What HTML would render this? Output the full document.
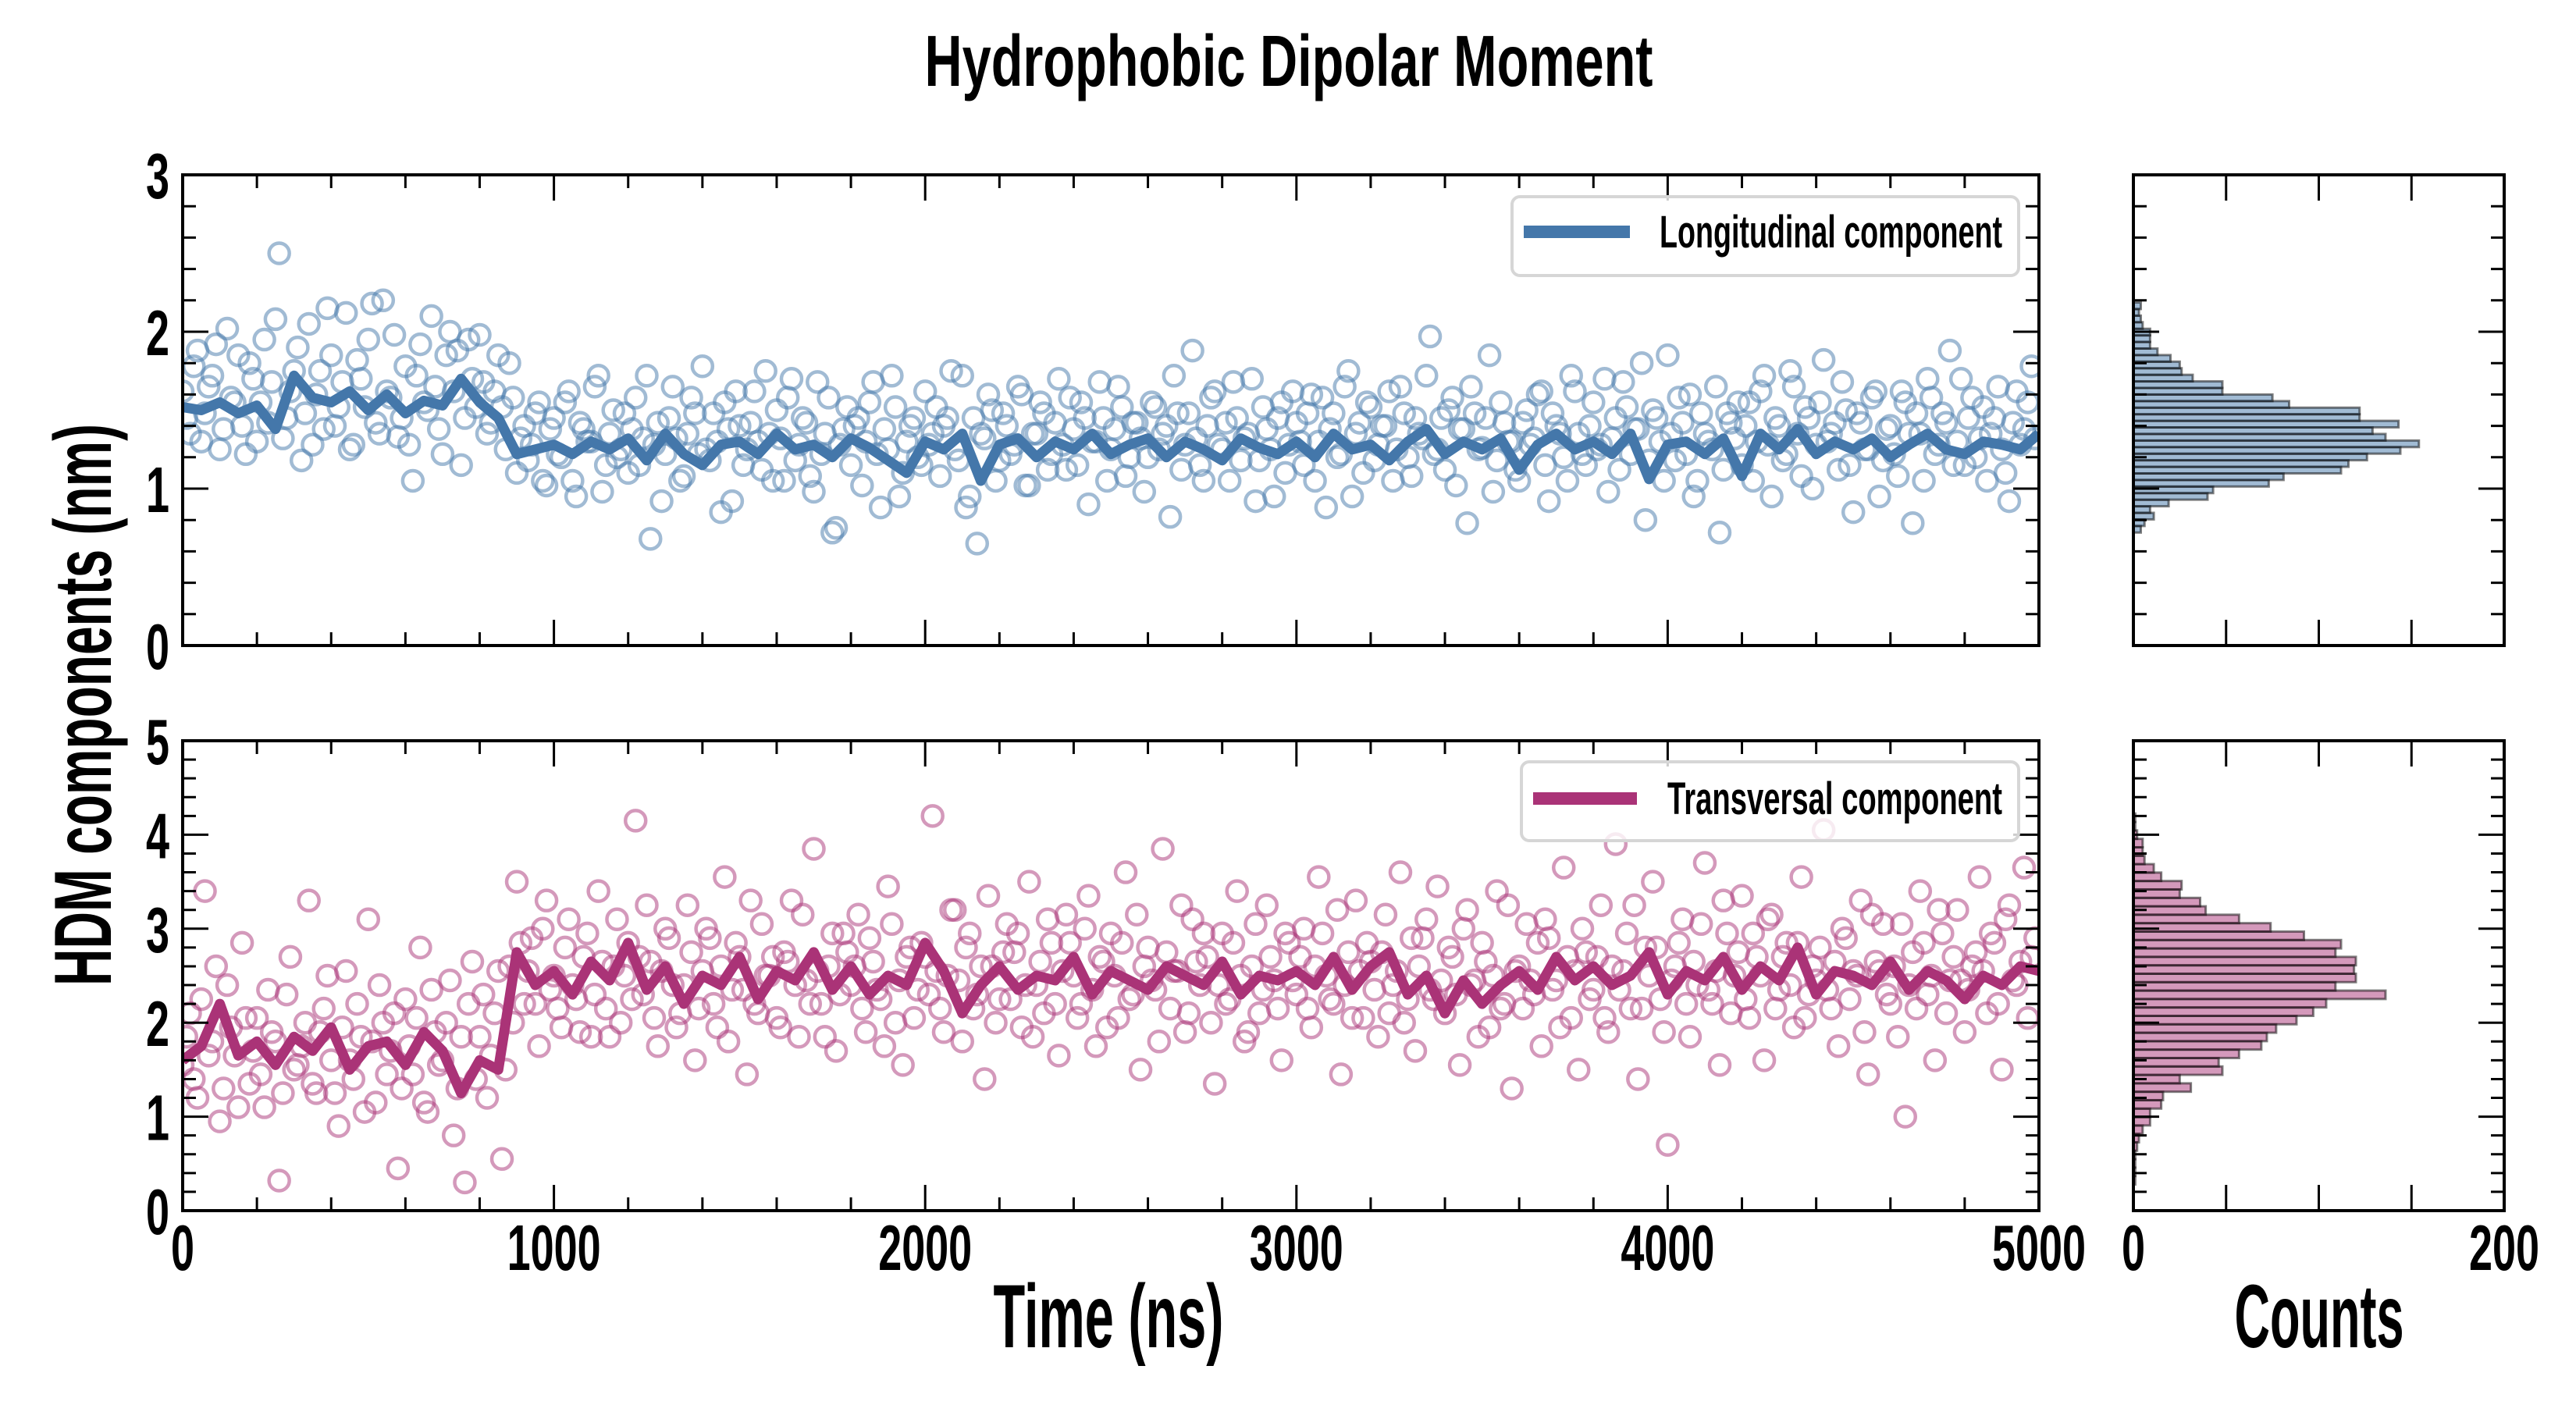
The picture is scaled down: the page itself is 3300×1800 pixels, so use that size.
<!DOCTYPE html>
<html><head><meta charset="utf-8"><style>
html,body{margin:0;padding:0;background:#fff;}
svg{display:block;}
text{font-family:"Liberation Sans",sans-serif;font-weight:bold;fill:#000;}
</style></head><body>
<svg id="fig" xmlns="http://www.w3.org/2000/svg" width="3300" height="1800" viewBox="0 0 3300 1800">
<rect x="0" y="0" width="3300" height="1800" fill="#fff"/>
<defs>
<clipPath id="clipTop"><rect x="234" y="224" width="2378" height="603"/></clipPath>
<clipPath id="clipBot"><rect x="234" y="949" width="2378" height="602"/></clipPath>
</defs>
<text x="1651" y="110" text-anchor="middle" font-size="93" textLength="933" lengthAdjust="spacingAndGlyphs">Hydrophobic Dipolar Moment</text>
<text x="0" y="0" transform="translate(142,903) rotate(-90)" text-anchor="middle" font-size="104" textLength="720" lengthAdjust="spacingAndGlyphs">HDM components (nm)</text>
<text x="1420" y="1726" text-anchor="middle" font-size="115" textLength="295" lengthAdjust="spacingAndGlyphs">Time (ns)</text>
<text x="2971" y="1726" text-anchor="middle" font-size="115" textLength="217" lengthAdjust="spacingAndGlyphs">Counts</text>
<g id="layer"></g>
</svg>
<script>
// ---- data ----
const lineStepNs = 50;
const longLine = [1.52,1.50,1.55,1.48,1.53,1.38,1.72,1.58,1.55,1.62,1.50,1.60,1.48,1.56,1.53,1.70,1.55,1.45,1.22,1.25,
1.28,1.22,1.30,1.25,1.32,1.18,1.35,1.22,1.15,1.28,1.30,1.22,1.35,1.25,1.28,1.20,1.32,1.26,1.18,1.10,
1.30,1.25,1.35,1.05,1.28,1.32,1.20,1.30,1.25,1.35,1.22,1.28,1.32,1.20,1.30,1.25,1.18,1.32,1.26,1.22,
1.30,1.20,1.35,1.25,1.28,1.18,1.30,1.38,1.22,1.30,1.25,1.32,1.12,1.28,1.35,1.25,1.30,1.22,1.35,1.06,
1.28,1.30,1.22,1.32,1.08,1.35,1.25,1.38,1.22,1.30,1.25,1.32,1.20,1.28,1.35,1.25,1.22,1.30,1.28,1.25,1.35];
const transLine = [1.60,1.75,2.20,1.65,1.80,1.55,1.85,1.70,1.95,1.50,1.75,1.80,1.55,1.90,1.70,1.25,1.60,1.50,2.75,2.40,
2.55,2.30,2.65,2.45,2.85,2.35,2.60,2.20,2.50,2.40,2.70,2.25,2.55,2.45,2.75,2.35,2.60,2.30,2.50,2.40,
2.85,2.55,2.10,2.40,2.60,2.35,2.50,2.45,2.70,2.30,2.55,2.45,2.35,2.60,2.50,2.40,2.65,2.30,2.50,2.45,
2.55,2.40,2.70,2.35,2.60,2.75,2.30,2.50,2.10,2.45,2.20,2.40,2.55,2.35,2.70,2.45,2.60,2.40,2.50,2.75,
2.30,2.55,2.45,2.70,2.35,2.60,2.45,2.80,2.30,2.55,2.50,2.40,2.65,2.35,2.55,2.45,2.25,2.50,2.40,2.60,2.55];
const scatterStepNs = 20;
const longScatter = [1.62,1.35,1.88,1.48,1.72,1.25,2.02,1.55,1.40,1.80,
1.30,1.95,1.68,2.50,1.45,1.75,1.18,2.05,1.60,1.38,
1.85,1.52,2.12,1.28,1.70,1.95,1.42,2.20,1.58,1.33,
1.78,1.05,1.92,1.50,1.65,1.22,2.00,1.88,1.45,1.70,
1.98,1.35,1.62,1.52,1.80,1.10,1.40,1.28,1.55,1.02,
1.45,1.20,1.62,0.95,1.38,1.30,1.72,1.15,1.50,1.25,
1.10,1.58,1.32,0.68,1.42,1.22,1.65,1.05,1.35,1.48,
1.78,1.18,1.30,1.55,0.92,1.40,1.25,1.62,1.12,1.35,
1.50,1.05,1.70,1.28,1.42,0.98,1.22,1.58,0.75,1.38,
1.15,1.45,1.30,1.68,0.88,1.25,1.52,1.10,1.40,1.20,
1.62,1.35,1.08,1.45,1.25,1.72,0.95,0.65,1.32,1.50,
1.18,1.40,1.28,1.60,1.02,1.35,1.48,1.22,1.70,1.12,
1.38,1.55,0.90,1.30,1.45,1.25,1.65,1.08,1.42,1.32,
1.20,1.52,1.35,0.82,1.48,1.28,1.88,1.15,1.40,1.62,
1.25,1.05,1.45,1.32,1.70,1.18,1.38,0.95,1.55,1.28,
1.42,1.15,1.60,1.30,0.88,1.48,1.22,1.75,1.35,1.10,
1.52,1.28,1.40,1.05,1.65,1.20,1.45,1.32,1.97,1.25,
1.12,1.58,1.38,0.78,1.48,1.26,1.85,1.18,1.42,1.30,
1.05,1.50,1.32,1.62,0.92,1.40,1.20,1.72,1.35,1.15,
1.55,1.28,0.98,1.45,1.68,1.22,1.38,0.80,1.50,1.30,
1.85,1.18,1.42,1.60,1.05,1.35,1.25,0.72,1.48,1.32,
1.15,1.55,1.30,1.72,0.95,1.40,1.22,1.65,1.08,1.45,
1.28,1.82,1.35,1.12,1.50,0.85,1.42,1.25,1.62,1.18,
1.40,1.08,1.55,0.78,1.35,1.70,1.22,1.48,1.88,1.30,
1.15,1.58,1.32,1.05,1.45,1.25,0.92,1.62,1.38,1.78];
const longScatterB = [1.45,1.78,1.30,1.65,1.92,1.38,1.58,1.85,1.22,1.70,
1.55,1.42,2.08,1.32,1.62,1.90,1.48,1.28,1.75,2.15,
1.40,1.68,1.25,1.82,1.52,2.18,1.35,1.62,1.98,1.45,
1.28,1.72,1.55,2.10,1.38,1.85,1.62,1.15,1.95,1.52,
1.68,1.42,1.85,1.25,1.58,1.32,1.18,1.48,1.05,1.38,
1.22,1.55,1.05,1.42,1.30,1.65,0.98,1.35,1.20,1.48,
1.38,1.15,1.72,1.28,0.92,1.45,1.32,1.08,1.58,1.22,
1.25,1.48,0.85,1.38,1.62,1.15,1.42,1.30,1.75,1.05,
1.32,1.58,1.18,1.45,1.08,1.68,1.35,0.72,1.28,1.52,
1.40,1.02,1.55,1.22,1.38,1.72,0.95,1.30,1.45,1.15,
1.28,1.52,1.40,1.75,1.18,0.88,1.45,1.35,1.60,1.05,
1.48,1.22,1.65,1.02,1.35,1.55,1.12,1.42,1.28,1.58,
1.15,1.45,1.30,1.68,1.05,1.38,1.52,1.20,1.42,0.98,
1.55,1.25,1.40,1.72,1.12,1.48,1.32,1.05,1.58,1.28,
1.42,1.68,1.18,1.35,0.92,1.52,1.25,1.45,1.10,1.62,
1.30,1.48,1.05,1.58,1.38,1.20,1.65,0.95,1.42,1.55,
1.18,1.40,1.62,1.25,1.48,1.08,1.35,1.72,1.22,1.45,
1.50,1.02,1.38,1.65,1.25,1.45,0.98,1.55,1.30,1.12,
1.42,1.28,1.60,1.15,1.48,1.35,1.05,1.62,1.22,1.40,
1.25,1.70,1.32,1.12,1.52,1.38,1.80,1.18,1.45,1.05,
1.35,1.58,1.22,0.95,1.48,1.30,1.65,1.12,1.42,1.55,
1.40,1.05,1.62,1.28,1.45,1.18,1.75,1.35,1.52,1.00,
1.55,1.30,1.42,1.68,1.15,1.48,1.25,1.58,0.95,1.38,
1.22,1.62,1.35,1.48,1.05,1.58,1.28,1.42,1.15,1.70,
1.45,1.20,1.52,1.35,1.65,1.10,1.42,1.28,1.55,1.32];
const transScatter = [1.55,2.10,1.20,3.40,1.80,0.95,2.40,1.65,2.85,1.35,
2.05,1.10,1.90,0.32,2.30,1.50,1.75,3.30,1.25,2.15,
1.60,0.90,2.55,1.40,1.85,3.10,1.15,2.00,1.70,0.45,
2.25,1.45,2.80,1.05,1.90,1.60,2.45,1.30,0.30,2.65,
1.85,1.20,2.10,0.55,2.60,3.50,2.20,2.90,1.75,3.30,
2.50,1.95,3.10,2.25,2.70,1.85,3.40,2.15,2.60,2.00,
2.85,4.15,2.30,2.65,1.75,3.00,2.40,2.10,3.25,1.60,
2.55,2.90,1.95,3.55,2.35,2.70,1.45,2.20,3.05,2.50,
2.05,2.75,3.30,1.85,2.45,3.85,2.20,2.60,1.70,2.95,
2.40,3.15,1.90,2.65,2.25,3.45,2.00,1.55,2.80,2.35,
2.70,4.20,2.15,2.50,3.20,1.80,2.95,2.30,1.40,2.60,
2.25,3.05,2.75,1.95,3.50,2.40,2.10,2.85,1.65,3.15,
2.50,2.20,3.35,1.75,2.65,2.95,2.05,3.60,2.30,1.50,
2.80,2.35,3.85,2.15,2.55,1.90,3.10,2.40,2.70,1.35,
2.95,2.25,3.40,1.80,2.60,2.10,3.25,2.45,1.60,2.85,
2.30,3.00,1.95,3.55,2.50,2.20,1.45,2.75,3.30,2.05,
2.65,1.85,3.15,2.40,3.60,2.25,1.70,2.90,2.35,3.45,
2.10,2.70,1.55,3.20,2.45,2.85,1.95,3.40,2.20,1.30,
2.60,3.05,2.30,1.75,2.90,2.45,3.65,2.05,1.50,2.75,
2.35,3.25,1.90,3.90,2.55,2.15,1.40,2.80,3.50,2.25,
0.70,2.60,3.10,1.85,2.40,3.70,2.20,1.55,2.95,2.50,
3.35,2.05,2.70,1.60,3.15,2.35,2.85,1.95,3.55,2.30,
2.45,4.05,2.15,1.75,2.90,2.55,3.30,1.45,2.65,3.05,
2.20,1.85,1.00,2.75,3.40,2.30,1.60,2.95,2.45,3.20,
1.90,2.60,3.55,2.10,2.85,1.50,3.25,2.40,3.65,2.70];
const transScatterB = [1.85,1.40,2.25,1.65,2.60,1.30,1.95,1.10,2.05,1.70,
1.45,2.35,1.80,1.25,2.70,1.55,2.00,1.35,1.90,2.50,
1.25,1.95,1.60,2.20,1.05,1.80,2.40,1.45,2.10,1.30,
1.75,2.05,1.15,2.35,1.55,2.00,0.80,1.85,2.20,1.40,
2.30,1.65,2.55,1.50,2.00,2.85,2.55,2.20,3.00,2.35,
2.15,2.80,2.40,1.90,2.95,2.30,2.65,1.85,3.10,2.50,
2.25,2.70,3.25,2.05,2.55,2.90,1.95,2.40,2.75,2.15,
3.00,2.20,2.60,1.80,2.85,2.35,3.30,2.10,2.50,2.70,
1.95,2.65,2.40,3.15,2.20,2.55,1.85,2.95,2.30,2.75,
2.60,2.15,2.90,2.35,1.75,3.05,2.45,2.70,2.05,2.85,
2.30,2.55,1.90,3.20,2.45,2.80,2.15,2.60,3.35,2.00,
2.75,2.25,2.95,2.40,1.85,2.65,3.10,2.20,2.55,2.85,
2.05,3.00,2.35,2.70,1.95,2.50,2.85,2.25,3.15,2.60,
2.45,1.80,2.75,2.55,3.25,2.10,2.65,2.95,2.00,2.40,
2.20,2.85,2.50,1.90,3.05,2.35,2.70,2.15,2.95,2.45,
2.70,2.15,2.60,2.95,2.25,3.20,2.40,2.05,2.55,2.85,
2.35,2.75,2.10,2.55,2.00,2.90,2.60,3.10,2.25,2.45,
2.80,2.30,3.00,2.40,1.85,2.65,2.50,2.15,3.25,2.55,
2.15,2.45,2.85,3.10,2.35,1.95,2.70,2.55,3.00,2.25,
2.70,2.05,2.60,2.35,2.95,3.25,2.15,2.50,2.80,1.90,
2.45,2.85,2.20,2.65,3.05,2.35,2.55,3.30,2.10,2.75,
2.25,2.95,2.50,3.10,2.15,2.70,2.40,2.85,2.05,2.60,
2.80,2.35,2.65,3.00,2.25,2.50,1.90,3.15,2.55,2.30,
2.60,3.05,2.40,2.15,2.85,2.50,3.20,2.10,2.70,2.45,
2.35,2.75,2.55,2.95,2.20,3.10,2.45,2.65,2.05,2.90];
const longHistStart = 0.72, longHistWidth = 0.0419;
const longHistCounts = [4,6,11,9,19,40,43,73,81,112,116,126,144,154,136,129,143,122,122,84,75,48,48,32,26,25,20,13,9,9,9,5,4,3,4];
const transHistStart = 0.2785, transHistWidth = 0.0897;
const transHistCounts = [1,1,1,1,2,3,5,9,9,15,16,31,25,48,46,57,69,72,77,88,97,104,136,109,120,119,120,109,112,92,74,57,39,36,25,26,15,11,6,5,5,2,1,1];
const xTickLabels = ["0","1000","2000","3000","4000","5000"];
const topYTickLabels = ["0","1","2","3"];
const botYTickLabels = ["0","1","2","3","4","5"];
const histXTickLabels = ["0","200"];

// ---- geometry ----
const NS = "http://www.w3.org/2000/svg";
const layer = document.getElementById('layer');
const AX = {l:234, r:2612};
const TOP = {t:224, b:827, max:3};
const BOT = {t:949, b:1551, max:5};
const H = {l:2733, r:3208, max:200};
const xScale = t => AX.l + t/5000*(AX.r-AX.l);
const yTop = v => TOP.b - v/TOP.max*(TOP.b-TOP.t);
const yBot = v => BOT.b - v/BOT.max*(BOT.b-BOT.t);
const hx = c => H.l + c/H.max*(H.r-H.l);

function el(tag, attrs, parent){
  const e = document.createElementNS(NS, tag);
  for (const k in attrs) e.setAttribute(k, attrs[k]);
  (parent||layer).appendChild(e);
  return e;
}

function scatter(vals, offsetNs, ys, color, clip, name){
  const g = el('g', {'clip-path':'url(#'+clip+')'});
  
  
  vals.forEach((v,i)=>{
    const c = el('circle', {cx:xScale(offsetNs + i*scatterStepNs), cy:ys(v), r:13, fill:'none', stroke:color, 'stroke-width':4.5, 'stroke-opacity':0.5}, g);
    
    
  });
}
function line(vals, ys, color, clip, name){
  const d = vals.map((v,i)=>(i?'L':'M')+xScale(i*lineStepNs).toFixed(1)+','+ys(v).toFixed(1)).join('');
  const p = el('path', {d:d, fill:'none', stroke:color, 'stroke-width':13, 'stroke-linejoin':'round', 'clip-path':'url(#'+clip+')'});
  
  
}
function hist(counts, start, w, ys, fill, name){
  const g = el('g', {});
  
  
  counts.forEach((c,i)=>{
    const y1 = ys(start+(i+1)*w), y0 = ys(start+i*w);
    const r = el('rect', {x:H.l, y:y1, width:hx(c)-H.l, height:y0-y1, fill:fill, stroke:'rgba(0,0,0,0.5)', 'stroke-width':3}, g);
    
    
  });
}
function frame(x0,x1,y0,y1,name){
  const r = el('rect', {x:x0, y:y0, width:x1-x0, height:y1-y0, fill:'none', stroke:'#000', 'stroke-width':4});
  
  
}
function tick(x1,y1,x2,y2){
  el('line', {x1:x1,y1:y1,x2:x2,y2:y2, stroke:'#000','stroke-width':3});
}
function xTicks(x0,x1,y0,y1,scale,min,max,major,minor){
  for(let v=min; v<=max+1e-9; v+=minor){
    const isMaj = Math.abs(v/major-Math.round(v/major))<1e-6;
    const L = isMaj?33:17, x=scale(v);
    tick(x,y1,x,y1-L); tick(x,y0,x,y0+L);
  }
}
function yTicks(x0,x1,ys,max,major,minor){
  for(let v=0; v<=max+1e-9; v+=minor){
    const isMaj = Math.abs(v/major-Math.round(v/major))<1e-6;
    const L = isMaj?33:17, y=ys(v);
    tick(x0,y,x0+L,y); tick(x1,y,x1-L,y);
  }
}
function label(x,y,txt,anchor,name){
  const t = el('text', {x:x, y:y, 'text-anchor':anchor, 'font-size':83, textLength:txt.length*30, lengthAdjust:'spacingAndGlyphs'});
  t.textContent = txt;
  
  
}

// ---- draw series ----
scatter(longScatter, 0, yTop, '#4477aa', 'clipTop', 'longitudinal-scatter');
scatter(longScatterB, 10, yTop, '#4477aa', 'clipTop', 'longitudinal-scatter-b');
line(longLine, yTop, '#4477aa', 'clipTop', 'longitudinal-line');
scatter(transScatter, 0, yBot, '#aa3377', 'clipBot', 'transversal-scatter');
scatter(transScatterB, 10, yBot, '#aa3377', 'clipBot', 'transversal-scatter-b');
line(transLine, yBot, '#aa3377', 'clipBot', 'transversal-line');
hist(longHistCounts, longHistStart, longHistWidth, yTop, 'rgba(68,119,170,0.5)', 'longitudinal-histogram');
hist(transHistCounts, transHistStart, transHistWidth, yBot, 'rgba(170,51,119,0.5)', 'transversal-histogram');

// ---- axes ----
[[TOP,yTop,'top'],[BOT,yBot,'bottom']].forEach(([P,ys,nm])=>{
  frame(AX.l,AX.r,P.t,P.b,nm+'-axes-frame');
  xTicks(AX.l,AX.r,P.t,P.b,xScale,0,5000,1000,200);
  yTicks(AX.l,AX.r,ys,P.max,1,0.2);
  frame(H.l,H.r,P.t,P.b,nm+'-hist-frame');
  xTicks(H.l,H.r,P.t,P.b,hx,0,200,50,50);
  yTicks(H.l,H.r,ys,P.max,1,0.2);
});
topYTickLabels.forEach((s,i)=>label(217, yTop(i)+30, s, 'end', 'top-y-tick-label'));
botYTickLabels.forEach((s,i)=>label(217, yBot(i)+30, s, 'end', 'bottom-y-tick-label'));
xTickLabels.forEach((s,i)=>label(xScale(i*1000), 1627, s, 'middle', 'x-tick-label'));
histXTickLabels.forEach((s,i)=>label(hx(i*200), 1627, s, 'middle', 'hist-x-tick-label'));

// ---- legends ----
function legend(x0,y0,x1,y1,lx0,lx1,ly,tx,txt,color,name){
  const g = el('g', {});
  
  
  el('rect', {x:x0,y:y0,width:x1-x0,height:y1-y0,rx:10,fill:'rgba(255,255,255,0.8)',stroke:'#d6d6d6','stroke-width':4}, g);
  el('line', {x1:lx0,y1:ly,x2:lx1,y2:ly,stroke:color,'stroke-width':16}, g);
  const t = el('text', {x:tx, y:ly+20, 'font-size':58, textLength:2565-tx, lengthAdjust:'spacingAndGlyphs'}, g);
  t.textContent = txt;
}
legend(1937,252,2586,353,1952,2088,297,2126,'Longitudinal component','#4477aa','longitudinal-legend');
legend(1949,976,2586,1077,1964,2097,1023,2136,'Transversal component','#aa3377','transversal-legend');
</script>
</body></html>
